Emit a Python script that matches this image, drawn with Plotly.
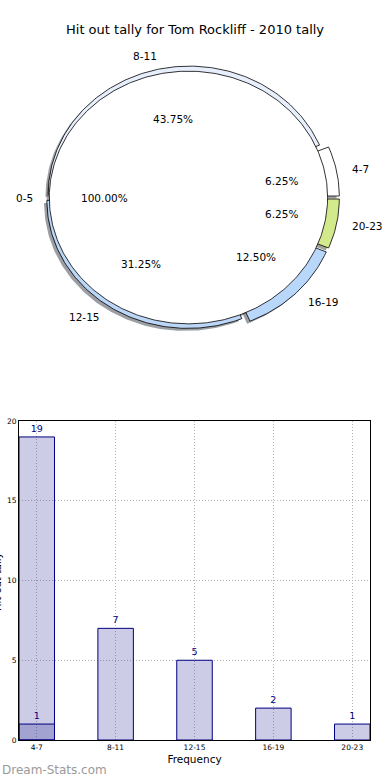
import numpy as np
import plotly.graph_objects as go

# ---------------- data ----------------
chart_title = "Hit out tally for Tom Rockliff - 2010 tally"

pie_labels = ["4-7", "8-11", "12-15", "16-19", "20-23"]
pie_values = [1, 7, 5, 2, 1]

inner_labels = ["0-5"]
inner_values = [1]

bar_labels = ["4-7", "8-11", "12-15", "16-19", "20-23"]
bar_values = [19, 7, 5, 2, 1]
bar2_labels = ["4-7"]
bar2_values = [1]

x_title = "Frequency"
y_title = "Hit out tally"
watermark = "Dream-Stats.com"

# ---------------- styles ----------------
pie_colors = ["#ffffff", "#e8effc", "#bcd6f7", "#b9d7fb", "#d2ea8c"]
pie_explode = [0.06, 0.027, 0.027, 0.06, 0.06]
inner_color = "#ffffff"
inner_explode = 0.011
inner_radius = 0.987

W, H = 390, 780
FONT = "DejaVu Sans"
PX_X, PX_Y = 141.0, 128.0          # pixels per pie unit
CX_PX, CY_PX = 190.0, 197.5        # pixel position of pie centre
PIE_TOP, PIE_BOT = 40.0, 360.0     # pie axis domain in pixels (from top)
SHADOW = (-0.02, -0.02)

fig = go.Figure()


def hex_rgb(h):
    h = h.lstrip("#")
    return tuple(int(h[i:i + 2], 16) for i in (0, 2, 4))


def wedge_xy(cx, cy, r, t0, t1, full=False):
    n = max(int(abs(t1 - t0) / (2 * np.pi) * 400), 12)
    t = np.linspace(t0, t1, n)
    xs = cx + r * np.cos(t)
    ys = cy + r * np.sin(t)
    if not full:
        xs = np.concatenate([[cx], xs, [cx]])
        ys = np.concatenate([[cy], ys, [cy]])
    return xs, ys


wedges = []   # (xs, ys, color)
texts = []    # (x, y, text, anchor)

total = float(sum(pie_values))
theta = 0.0
for lab, val, col, ex in zip(pie_labels, pie_values, pie_colors, pie_explode):
    frac = val / total
    t0, t1 = theta, theta + 2 * np.pi * frac
    tm = 0.5 * (t0 + t1)
    cx, cy = ex * np.cos(tm), ex * np.sin(tm)
    xs, ys = wedge_xy(cx, cy, 1.0, t0, t1)
    wedges.append((xs, ys, col))
    lx, ly = cx + 1.1 * np.cos(tm), cy + 1.1 * np.sin(tm)
    texts.append((lx, ly, lab, "left" if lx > 0 else "right"))
    px, py = cx + 0.6 * np.cos(tm), cy + 0.6 * np.sin(tm)
    texts.append((px, py, f"{frac * 100:.2f}%", "center"))
    theta = t1

inner_wedges = []
itotal = float(sum(inner_values))
theta = 0.0
for lab, val in zip(inner_labels, inner_values):
    frac = val / itotal
    t0, t1 = theta, theta + 2 * np.pi * frac
    tm = 0.5 * (t0 + t1)
    cx, cy = inner_explode * np.cos(tm), inner_explode * np.sin(tm)
    xs, ys = wedge_xy(cx, cy, inner_radius, t0, t1, full=(frac >= 0.999))
    inner_wedges.append((xs, ys, inner_color))
    lx, ly = cx + 1.1 * inner_radius * np.cos(tm), cy + 1.1 * inner_radius * np.sin(tm)
    texts.append((lx, ly, lab, "left" if lx > 0 else "right"))
    px, py = cx + 0.6 * inner_radius * np.cos(tm), cy + 0.6 * inner_radius * np.sin(tm)
    texts.append((px, py, f"{frac * 100:.2f}%", "center"))
    theta = t1

# shadows first
for xs, ys, col in wedges + inner_wedges:
    r, g, b = hex_rgb(col)
    fig.add_trace(go.Scatter(
        x=xs + SHADOW[0], y=ys + SHADOW[1], mode="lines", fill="toself",
        fillcolor=f"rgba({int(0.3*r)},{int(0.3*g)},{int(0.3*b)},0.5)",
        line=dict(width=0), hoverinfo="skip", showlegend=False,
        xaxis="x2", yaxis="y2"))

for xs, ys, col in wedges + inner_wedges:
    fig.add_trace(go.Scatter(
        x=xs, y=ys, mode="lines", fill="toself", fillcolor=col,
        line=dict(color="#000000", width=0.8), hoverinfo="skip",
        showlegend=False, xaxis="x2", yaxis="y2"))

annotations = []
for x, y, t, anc in texts:
    annotations.append(dict(
        x=x, y=y, xref="x2", yref="y2", text=t, showarrow=False,
        xanchor=anc, yanchor="middle",
        font=dict(family=FONT, size=10.5, color="#000000")))

# ---------------- bar chart ----------------
bar_fill = "rgba(0,0,128,0.2)"
fig.add_trace(go.Bar(
    x=bar_labels, y=bar_values, width=0.45, marker=dict(
        color=bar_fill, line=dict(color="#000080", width=1)),
    text=[str(v) for v in bar_values], textposition="outside",
    textfont=dict(family=FONT, size=9.5, color="#000080"),
    cliponaxis=False, showlegend=False, hoverinfo="skip"))
fig.add_trace(go.Bar(
    x=bar2_labels, y=bar2_values, width=0.45, marker=dict(
        color=bar_fill, line=dict(color="#000080", width=1)),
    text=[str(v) for v in bar2_values], textposition="outside",
    textfont=dict(family=FONT, size=9.5, color="#000080"),
    cliponaxis=False, showlegend=False, hoverinfo="skip"))

# title, watermark, y label
annotations.append(dict(
    x=195 / W, y=1 - 30 / H, xref="paper", yref="paper", text=chart_title,
    showarrow=False, xanchor="center", yanchor="middle",
    font=dict(family=FONT, size=13, color="#000000")))
annotations.append(dict(
    x=0, y=1 - 770 / H, xref="paper", yref="paper", text=watermark,
    showarrow=False, xanchor="left", yanchor="middle",
    font=dict(family=FONT, size=12, color="#9a9a9a")))
annotations.append(dict(
    x=-3 / W, y=1 - 582 / H, xref="paper", yref="paper", text=y_title,
    showarrow=False, xanchor="center", yanchor="middle", textangle=-90,
    font=dict(family=FONT, size=10, color="#000000")))

GRID = dict(showgrid=True, gridcolor="#b4b4b4", griddash="1px,2px", gridwidth=1)

fig.update_layout(
    width=W, height=H, margin=dict(l=0, r=0, t=0, b=0, autoexpand=False),
    paper_bgcolor="#ffffff", plot_bgcolor="#ffffff",
    barmode="overlay", annotations=annotations,
    xaxis=dict(
        domain=[19 / W, 370 / W], type="category",
        categoryorder="array", categoryarray=bar_labels,
        range=[-0.225, len(bar_labels) - 1 + 0.225],
        showline=True, linecolor="#000000", linewidth=1, mirror=True,
        ticks="", tickfont=dict(family=FONT, size=7.5, color="#000000"),
        title=dict(text=x_title, standoff=4,
                   font=dict(family=FONT, size=10.5, color="#000000")),
        fixedrange=True, anchor="y", automargin=False, **GRID),
    yaxis=dict(
        domain=[1 - 740 / H, 1 - 421 / H], range=[0, 20],
        tickvals=[0, 5, 10, 15, 20],
        showline=True, linecolor="#000000", linewidth=1, mirror=True,
        zeroline=False, ticks="",
        tickfont=dict(family=FONT, size=7.5, color="#000000"),
        fixedrange=True, anchor="x", automargin=False, **GRID),
    xaxis2=dict(
        domain=[0, 1], range=[-CX_PX / PX_X, (W - CX_PX) / PX_X],
        visible=False, fixedrange=True, anchor="y2", automargin=False),
    yaxis2=dict(
        domain=[1 - PIE_BOT / H, 1 - PIE_TOP / H],
        range=[(CY_PX - PIE_BOT) / PX_Y, (CY_PX - PIE_TOP) / PX_Y],
        visible=False, fixedrange=True, anchor="x2", automargin=False),
)

fig.write_html(
    "out.html",
    config={"displayModeBar": False},
    post_script="document.body.style.margin='0';document.body.style.overflow='hidden';",
)
